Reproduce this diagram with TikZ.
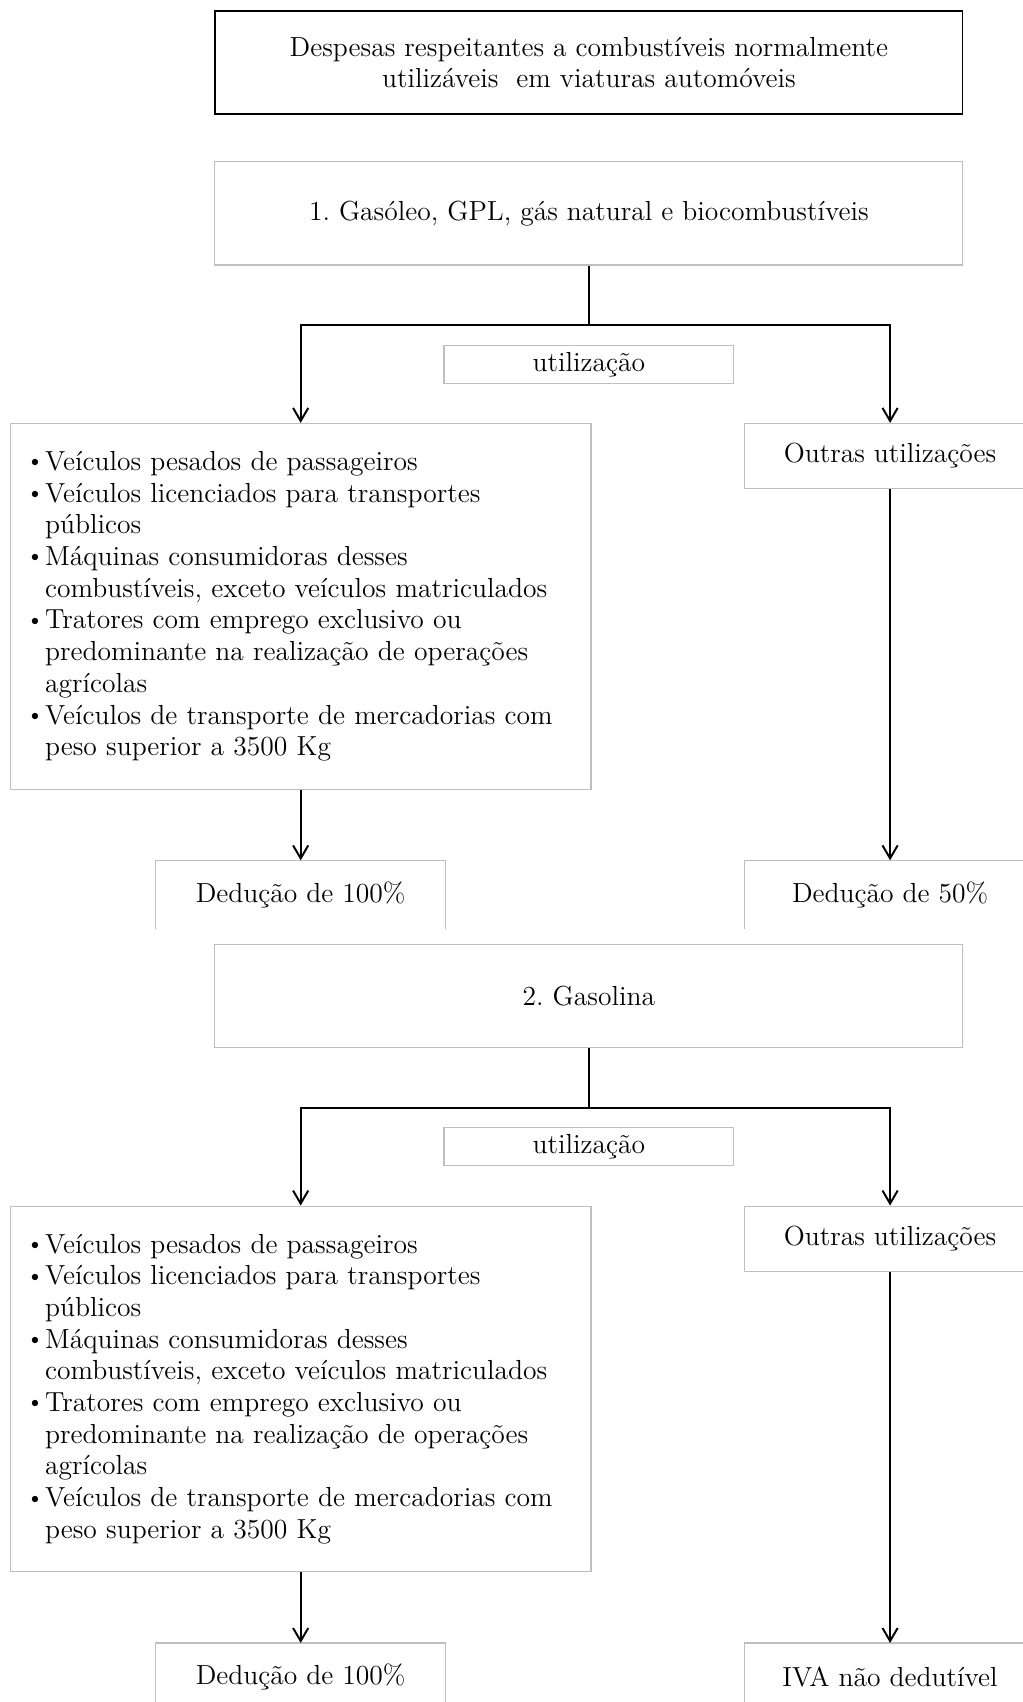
\documentclass[tikz,border=0pt]{standalone}
\usepackage{tikz}
\usetikzlibrary{positioning}
\usetikzlibrary{arrows.meta}
\frenchspacing
\newcommand{\bul}{\makebox[8.5pt][l]{\fontsize{10}{10}\selectfont\raisebox{1.2pt}{\textbullet}}}
\newcommand{\hng}{\hspace*{8.5pt}}

\begin{document}
\begin{tikzpicture}[
  font=\fontsize{12.7}{14.6}\selectfont,
  gbox/.style={rectangle, draw=black!25, line width=0.5pt, inner sep=0pt, align=center},
  obox/.style={rectangle, inner sep=0pt, align=center, minimum width=133pt, minimum height=31pt},
  open/.style={draw=black!25, line width=0.5pt},
  arr/.style={line width=0.9pt, -{Straight Barb[length=6pt,width=7pt]}}
]
\useasboundingbox (0,0) rectangle (471.2pt,-784pt);

 \node(top)[rectangle, draw, line width=0.6pt, minimum width=344.5pt, minimum height=47.5pt, align=center] at (271.25pt,-28.75pt)
   {Despesas respeitantes a combustíveis normalmente\\utilizáveis \ em viaturas automóveis};

 % 1. gasoleo
 \node(g1)[gbox, minimum width=344.5pt, minimum height=47.5pt, below=21.5pt of top]{1. Gasóleo, GPL, gás natural e biocombustíveis};
 \coordinate[below=27.5pt of g1](j1);
 \coordinate[left=132.75pt of j1](l1);
 \coordinate[right=138.75pt of j1](r1);
 \node(u1)[gbox, minimum width=133.5pt, minimum height=17.5pt, below=9pt of j1]{utilização};

 \node(p1)[gbox, align=left, text width=252.5pt, inner xsep=7.5pt, minimum height=168.5pt, below=45pt of l1]
   {\bul Veículos pesados de passageiros\\
    \bul Veículos licenciados para transportes\\
    \hng públicos\\
    \bul Máquinas consumidoras desses\\
    \hng combustíveis, exceto veículos matriculados\\
    \bul Tratores com emprego exclusivo ou\\
    \hng predominante na realização de operações\\
    \hng agrícolas\\
    \bul Veículos de transporte de mercadorias com\\
    \hng peso superior a 3500 Kg};
 \node(o1)[gbox, minimum width=134pt, minimum height=30pt, below=45pt of r1]{Outras utilizações};

 \node(d1)[obox, below=32.5pt of p1]{Dedução de 100\%};
 \node(e1)[obox, minimum width=134pt, below=171pt of o1]{Dedução de 50\%};
 \draw[open](d1.south west)--(d1.north west)--(d1.north east)--(d1.south east);
 \draw[open](e1.south west)--(e1.north west)--(e1.north east)--(e1.south east);

 \draw[arr](g1)--(j1)-|(p1);
 \draw[arr](j1)-|(o1);
 \draw[arr](p1)--(d1);
 \draw[arr](o1)--(e1);

 % 2. gasolina
 \node(g2)[gbox, minimum width=344.5pt, minimum height=47.5pt, below=312.5pt of g1]{2. Gasolina};
 \coordinate[below=27.5pt of g2](j2);
 \coordinate[left=132.75pt of j2](l2);
 \coordinate[right=138.75pt of j2](r2);
 \node(u2)[gbox, minimum width=133.5pt, minimum height=17.5pt, below=9pt of j2]{utilização};

 \node(p2)[gbox, align=left, text width=252.5pt, inner xsep=7.5pt, minimum height=168.5pt, below=45pt of l2]
   {\bul Veículos pesados de passageiros\\
    \bul Veículos licenciados para transportes\\
    \hng públicos\\
    \bul Máquinas consumidoras desses\\
    \hng combustíveis, exceto veículos matriculados\\
    \bul Tratores com emprego exclusivo ou\\
    \hng predominante na realização de operações\\
    \hng agrícolas\\
    \bul Veículos de transporte de mercadorias com\\
    \hng peso superior a 3500 Kg};
 \node(o2)[gbox, minimum width=134pt, minimum height=30pt, below=45pt of r2]{Outras utilizações};

 \node(d2)[obox, below=32.5pt of p2]{Dedução de 100\%};
 \node(e2)[obox, minimum width=134pt, below=171pt of o2]{IVA não dedutível};
 \draw[open](d2.south west)--(d2.north west)--(d2.north east)--(d2.south east);
 \draw[open](e2.south west)--(e2.north west)--(e2.north east)--(e2.south east);

 \draw[arr](g2)--(j2)-|(p2);
 \draw[arr](j2)-|(o2);
 \draw[arr](p2)--(d2);
 \draw[arr](o2)--(e2);

\end{tikzpicture}
\end{document}
